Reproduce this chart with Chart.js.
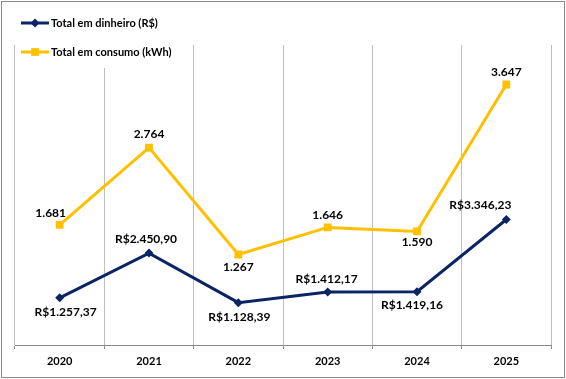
<!DOCTYPE html>
<html>
<head>
<meta charset="utf-8">
<script src="https://cdn.jsdelivr.net/npm/chart.js@4.4.1/dist/chart.umd.min.js"></script>
<style>
  html, body { margin: 0; padding: 0; background: #fff; }
  #wrap { width: 566px; height: 379px; position: relative; }
</style>
</head>
<body>
<div id="wrap"><canvas id="c" width="566" height="379"></canvas></div>
<script>
// ---- data ----
const years = ['2020', '2021', '2022', '2023', '2024', '2025'];
const dinheiro = [1257.37, 2450.90, 1128.39, 1412.17, 1419.16, 3346.23];
const consumo = [1681, 2764, 1267, 1646, 1590, 3647];
const seriesNames = ['Total em dinheiro (R$)', 'Total em consumo (kWh)'];

const NAVY = '#0b2466';
const GOLD = '#FFC000';
const FONT = 'Lato, "Open Sans", sans-serif';

function fmtBR(v, dec) {
  const parts = v.toFixed(dec).split('.');
  const int = parts[0].replace(/\B(?=(\d{3})+(?!\d))/g, '.');
  return dec > 0 ? int + ',' + parts[1] : int;
}

// label offsets relative to each point (layout only)
const labelOffsets = [
  [[6, 14], [-3, -14], [1, 14], [-1, -13], [-5, 13], [-26, -14]],
  [[-9, -12], [0, -13], [0, 13], [0, -12], [0, 11], [0, -12]]
];

const borderPlugin = {
  id: 'outerBorder',
  beforeDraw(chart) {
    const ctx = chart.ctx;
    ctx.save();
    ctx.fillStyle = '#fff';
    ctx.fillRect(0, 0, chart.width, chart.height);
    ctx.restore();
  },
  afterDraw(chart) {
    const ctx = chart.ctx;
    ctx.save();
    ctx.strokeStyle = '#8a8a8a';
    ctx.lineWidth = 1;
    ctx.strokeRect(1.5, 1.5, 563, 376);
    ctx.restore();
  }
};

const labelPlugin = {
  id: 'valueLabels',
  afterDatasetsDraw(chart) {
    const ctx = chart.ctx;
    ctx.save();
    ctx.font = 'bold 12px ' + FONT;
    ctx.fillStyle = '#000';
    ctx.textAlign = 'center';
    ctx.textBaseline = 'middle';
    chart.data.datasets.forEach((ds, di) => {
      const meta = chart.getDatasetMeta(di);
      meta.data.forEach((pt, i) => {
        const v = ds.data[i];
        const txt = di === 0 ? 'R$' + fmtBR(v, 2) : fmtBR(v, 0);
        const off = labelOffsets[di][i];
        ctx.fillText(txt, pt.x + off[0], pt.y + off[1]);
      });
    });
    ctx.restore();
  }
};

const legendPlugin = {
  id: 'customLegend',
  afterDraw(chart) {
    const ctx = chart.ctx;
    ctx.save();
    ctx.fillStyle = '#fff';
    ctx.fillRect(16, 44, 172, 24);
    const rows = [
      { y: 23, color: NAVY, style: 'rectRot', r: 4.5 },
      { y: 52, color: GOLD, style: 'rect', r: 5.5 }
    ];
    rows.forEach((row, i) => {
      ctx.strokeStyle = row.color;
      ctx.lineWidth = 3;
      ctx.beginPath();
      ctx.moveTo(21, row.y);
      ctx.lineTo(49, row.y);
      ctx.stroke();
      ctx.fillStyle = row.color;
      Chart.helpers.drawPoint(ctx, { pointStyle: row.style, radius: row.r, borderWidth: 0 }, 35, row.y);
      ctx.fillStyle = '#000';
      ctx.font = 'bold 11px ' + FONT;
      ctx.textAlign = 'left';
      ctx.textBaseline = 'middle';
      ctx.fillText(seriesNames[i], 51, row.y);
    });
    ctx.restore();
  }
};

new Chart(document.getElementById('c'), {
  type: 'line',
  data: {
    labels: years,
    datasets: [
      {
        label: seriesNames[0],
        data: dinheiro,
        yAxisID: 'y',
        borderColor: NAVY,
        backgroundColor: NAVY,
        borderWidth: 3,
        pointStyle: 'rectRot',
        pointRadius: 4.5,
        pointBorderWidth: 0,
        tension: 0
      },
      {
        label: seriesNames[1],
        data: consumo,
        yAxisID: 'y1',
        borderColor: GOLD,
        backgroundColor: GOLD,
        borderWidth: 3,
        pointStyle: 'rect',
        pointRadius: 5.5,
        pointBorderWidth: 0,
        tension: 0
      }
    ]
  },
  options: {
    responsive: false,
    animation: false,
    events: [],
    layout: { padding: { left: 15, right: 15, top: 45, bottom: 0 } },
    plugins: { legend: { display: false }, tooltip: { enabled: false } },
    scales: {
      x: {
        offset: true,
        grid: {
          offset: true,
          color: '#bfbfbf',
          lineWidth: 1,
          drawTicks: true,
          tickLength: 4,
          tickColor: '#8a8a8a'
        },
        border: { color: '#8a8a8a', width: 1 },
        ticks: {
          color: '#000',
          font: { family: FONT, size: 11, weight: 'bold' },
          padding: 6,
          maxRotation: 0
        },
        afterFit(s) { s.height = 34; }
      },
      y: { display: false, min: 0, max: 8000 },
      y1: { display: false, min: 0, max: 4200 }
    }
  },
  plugins: [borderPlugin, labelPlugin, legendPlugin]
});
</script>
</body>
</html>
